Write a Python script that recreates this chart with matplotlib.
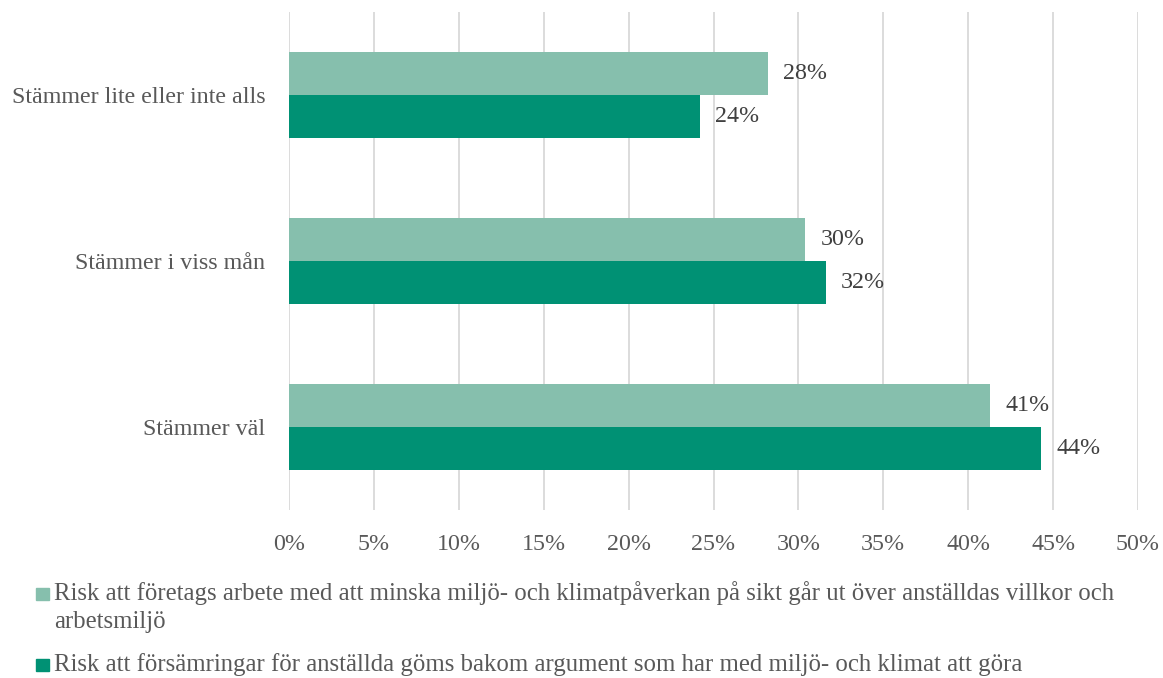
import matplotlib
matplotlib.use('Agg')
import matplotlib.pyplot as plt
from matplotlib.patches import Rectangle

plt.rcParams['font.family'] = ['Liberation Serif', 'DejaVu Serif']

# kategorier uppifrån och ned
categories = ['Stämmer lite eller inte alls', 'Stämmer i viss mån', 'Stämmer väl']
series_names = [
    'Risk att företags arbete med att minska miljö- och klimatpåverkan på sikt går ut över anställdas villkor och\narbetsmiljö',
    'Risk att försämringar för anställda göms bakom argument som har med miljö- och klimat att göra',
]
series_values = [
    [28.2, 30.4, 41.3],
    [24.2, 31.6, 44.3],
]
xticks = list(range(0, 55, 5))

colors = ['#86BFAD', '#009174']
text_color = '#595959'
fs = 17.3
W, H = 1163, 678

fig = plt.figure(figsize=(W / 100, H / 100), dpi=100)
ax = fig.add_axes([0.2485, 0.2478, 0.73, 0.7345])

bar_h = 0.26
ypos = list(range(len(categories)))
for i, (vals, col) in enumerate(zip(series_values, colors)):
    offs = -bar_h / 2 if i == 0 else bar_h / 2
    ys = [y + offs for y in ypos]
    ax.barh(ys, vals, height=bar_h, color=col, zorder=3)
    for y, v in zip(ys, vals):
        ax.annotate(f'{v:.0f}%', (v, y), xytext=(11, 0), textcoords='offset points',
                    va='center', ha='left', fontsize=fs, color='#404040')

ax.set_xlim(0, 50)
ax.set_ylim(len(categories) - 0.5, -0.5)
ax.set_xticks(xticks)
ax.set_xticklabels([f'{t}%' for t in xticks], fontsize=fs, color=text_color)
ax.set_yticks(ypos)
ax.set_yticklabels(categories, fontsize=fs, color=text_color)
ax.tick_params(length=0)
ax.tick_params(axis='x', pad=17)
ax.tick_params(axis='y', pad=17)
ax.grid(axis='x', color='#D9D9D9', linewidth=1.3, zorder=0)
for s in ax.spines.values():
    s.set_visible(False)

# förklaring: fyrkant vid första radens baslinje, text i rader under varandra
legend_fs = 17.8
line_h = 28
item_baselines = [600, 671]
for name, col, base in zip(series_names, colors, item_baselines):
    fig.patches.append(Rectangle((36 / W, (H - base) / H), 12.5 / W, 12.5 / H,
                                 transform=fig.transFigure, color=col))
    for k, line in enumerate(name.split('\n')):
        fig.text(54 / W, (H - base - k * line_h) / H, line, fontsize=legend_fs,
                 color=text_color, ha='left', va='baseline')

fig.savefig('out.png', dpi=100, facecolor='white')
